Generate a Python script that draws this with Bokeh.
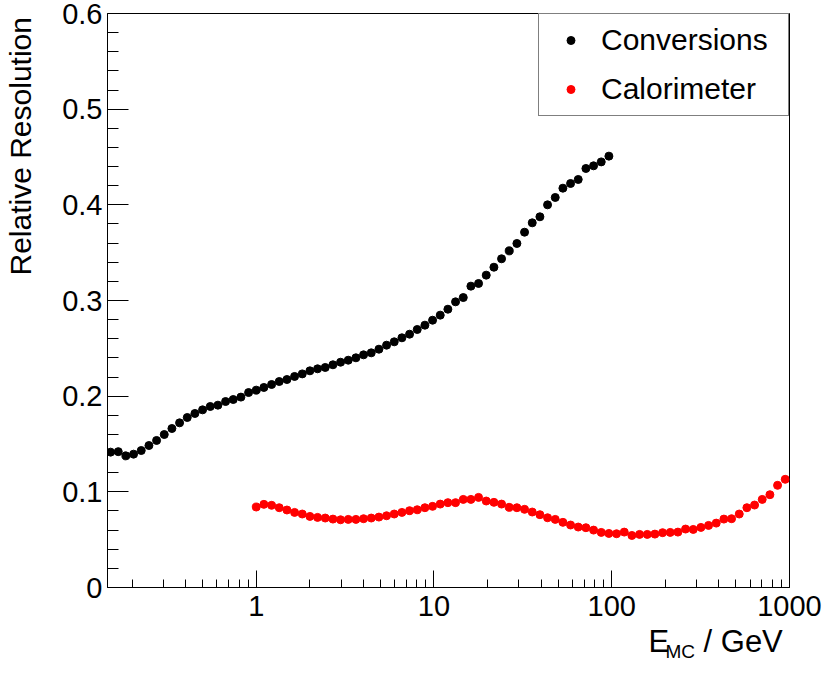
import numpy as np
from bokeh.plotting import figure
from bokeh.models import Range1d, FixedTicker, Legend, LegendItem, Title
from bokeh.embed import file_html
from bokeh.resources import INLINE

# ---------------- data ----------------
conv_energy = [0.1515, 0.1674, 0.1848, 0.2041, 0.2254, 0.2490, 0.2750, 0.3037, 0.3354, 0.3704,
               0.4091, 0.4518, 0.4990, 0.5511, 0.6086, 0.6722, 0.7423, 0.8199, 0.9055, 1.000,
               1.104, 1.220, 1.347, 1.488, 1.643, 1.815, 2.004, 2.213, 2.444, 2.700,
               2.982, 3.293, 3.637, 4.016, 4.436, 4.899, 5.410, 5.975, 6.599, 7.288,
               8.049, 8.889, 9.817, 10.84, 11.97, 13.22, 14.61, 16.13, 17.81, 19.67,
               21.73, 23.99, 26.50, 29.27, 32.32, 35.70, 39.43, 43.54, 48.09, 53.11,
               58.66, 64.78, 71.55, 79.02, 87.27, 96.38]
conv_resolution = [0.1415, 0.1420, 0.1376, 0.1394, 0.1432, 0.1484, 0.1537, 0.1599, 0.1662, 0.1721,
                   0.1777, 0.1819, 0.1857, 0.1892, 0.1906, 0.1944, 0.1965, 0.1990, 0.2038, 0.2063,
                   0.2091, 0.2122, 0.2153, 0.2174, 0.2206, 0.2233, 0.2265, 0.2286, 0.2300, 0.2328,
                   0.2355, 0.2376, 0.2401, 0.2432, 0.2453, 0.2491, 0.2533, 0.2568, 0.2610, 0.2648,
                   0.2697, 0.2742, 0.2794, 0.2847, 0.2909, 0.2986, 0.3031, 0.3150, 0.3178, 0.3265,
                   0.3348, 0.3436, 0.3519, 0.3596, 0.3714, 0.3812, 0.3875, 0.4000, 0.4077, 0.4174,
                   0.4223, 0.4265, 0.4380, 0.4408, 0.4449, 0.4509]

calo_energy = [1.000, 1.104, 1.220, 1.347, 1.488, 1.643, 1.815, 2.004, 2.213, 2.444,
               2.700, 2.982, 3.293, 3.637, 4.016, 4.436, 4.899, 5.410, 5.975, 6.599,
               7.288, 8.049, 8.889, 9.817, 10.84, 11.97, 13.22, 14.61, 16.13, 17.81,
               19.67, 21.73, 23.99, 26.50, 29.27, 32.32, 35.70, 39.43, 43.54, 48.09,
               53.11, 58.66, 64.78, 71.55, 79.02, 87.27, 96.38, 106.4, 117.6, 129.8,
               143.4, 158.4, 174.9, 193.2, 213.3, 235.6, 260.2, 287.4, 317.4, 350.5,
               387.1, 427.5, 472.2, 521.5, 575.9, 636.0, 702.4, 775.8, 856.8, 946.2]
calo_resolution = [0.0841, 0.0869, 0.0859, 0.0834, 0.0810, 0.0785, 0.0768, 0.0743, 0.0733, 0.0726,
                   0.0715, 0.0708, 0.0712, 0.0712, 0.0719, 0.0726, 0.0736, 0.0750, 0.0768, 0.0785,
                   0.0803, 0.0813, 0.0834, 0.0848, 0.0872, 0.0887, 0.0887, 0.0921, 0.0921, 0.0942,
                   0.0904, 0.0890, 0.0872, 0.0838, 0.0834, 0.0817, 0.0789, 0.0761, 0.0729, 0.0712,
                   0.0681, 0.0653, 0.0632, 0.0625, 0.0600, 0.0576, 0.0565, 0.0562, 0.0579, 0.0544,
                   0.0555, 0.0555, 0.0558, 0.0573, 0.0576, 0.0579, 0.0611, 0.0607, 0.0628, 0.0649,
                   0.0673, 0.0715, 0.0719, 0.0768, 0.0834, 0.0862, 0.0921, 0.0970, 0.1068, 0.1131]

series_names = ["Conversions", "Calorimeter"]
series_colors = ["black", "red"]

x_ticks = [1, 10, 100, 1000]
x_tick_labels = ["1", "10", "100", "1000"]
y_ticks = [0, 0.1, 0.2, 0.3, 0.4, 0.5, 0.6]
y_tick_labels = ["0", "0.1", "0.2", "0.3", "0.4", "0.5", "0.6"]

y_title = "Relative Resolution"
x_title_main = "E"
x_title_sub = "MC"
x_title_unit = "/ GeV"

FONT = "Liberation Sans"
NBSP = "\u00a0"

# ---------------- figure ----------------
p = figure(width=822, height=674, x_axis_type="log",
           x_range=Range1d(0.1456, 1000), y_range=Range1d(0, 0.6),
           output_backend="svg", toolbar_location=None,
           min_border_left=107, min_border_right=33, min_border_top=13, min_border_bottom=87)
p.grid.visible = False
p.outline_line_color = "black"
p.outline_line_width = 1
p.background_fill_color = "white"
p.border_fill_color = "white"

r_conv = p.scatter(conv_energy, conv_resolution, size=8, color=series_colors[0])
r_calo = p.scatter(calo_energy, calo_resolution, size=8, color=series_colors[1])

xa = p.xaxis[0]
xa.ticker = FixedTicker(ticks=x_ticks,
                        minor_ticks=[m * 10.0 ** d for d in range(-1, 3) for m in range(2, 10)])
xa.major_label_overrides = dict(zip(x_ticks, x_tick_labels))
xa.major_tick_in = 17
xa.major_tick_out = 0
xa.minor_tick_in = 8
xa.minor_tick_out = 0
xa.major_label_standoff = 8
xa.major_label_text_font = FONT
xa.major_label_text_font_size = "29px"
xa.major_label_text_color = "black"
xa.axis_line_color = "black"
xa.major_tick_line_color = "black"
xa.minor_tick_line_color = "black"

ya = p.yaxis[0]
ya.ticker = FixedTicker(ticks=y_ticks,
                        minor_ticks=[round(0.02 * i, 2) for i in range(31) if i % 5])
ya.major_label_overrides = dict(zip(y_ticks, y_tick_labels))
ya.major_tick_in = 21
ya.major_tick_out = 0
ya.minor_tick_in = 11
ya.minor_tick_out = 0
ya.major_label_standoff = 5
ya.major_label_text_font = FONT
ya.major_label_text_font_size = "29px"
ya.major_label_text_color = "black"
ya.axis_line_color = "black"
ya.major_tick_line_color = "black"
ya.minor_tick_line_color = "black"

# y title through the axis; leading no-break spaces push it to the top end (ROOT style)
ya.axis_label = NBSP * 37 + y_title
ya.axis_label_text_font = FONT
ya.axis_label_text_font_size = "30px"
ya.axis_label_text_font_style = "normal"
ya.axis_label_text_color = "black"
ya.axis_label_standoff = 22

# x title: main row "E ... / GeV" right aligned, subscript "MC" lowered
title_main = Title(text=x_title_main + NBSP * 4 + x_title_unit, align="right", offset=6.7,
                   vertical_align="top", standoff=11,
                   text_font=FONT, text_font_size="31px", text_font_style="normal",
                   text_color="black")
p.add_layout(title_main, "below")
title_sub = Title(text=x_title_sub, align="left", offset=558, vertical_align="top",
                  text_font=FONT, text_font_size="19px", text_font_style="normal",
                  text_color="black")
try:
    title_sub.standoff = -51
except Exception:
    title_sub.standoff = 0
p.add_layout(title_sub, "below")

legend = Legend(items=[LegendItem(label=series_names[0], renderers=[r_conv]),
                       LegendItem(label=series_names[1], renderers=[r_calo])],
                location="top_right", margin=0, padding=2, spacing=1,
                label_height=48, glyph_width=59, glyph_height=20,
                label_standoff=1, label_width=185,
                label_text_font=FONT, label_text_font_size="30px", label_text_color="black",
                border_line_color="black", border_line_width=1,
                background_fill_color="white", background_fill_alpha=1.0)
p.add_layout(legend)

open("out.html", "w").write(file_html(p, INLINE))
